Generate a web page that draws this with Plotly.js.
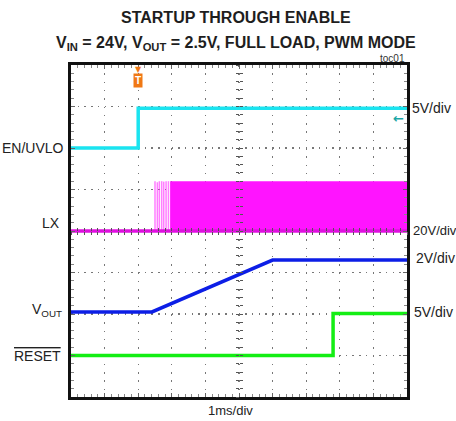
<!DOCTYPE html>
<html>
<head>
<meta charset="utf-8">
<script src="https://cdn.plot.ly/plotly-3.0.1.min.js"></script>
<style>html,body{margin:0;padding:0;background:#fff;}#chart{width:456px;height:421px;}</style>
</head>
<body>
<div id="chart"></div>
<script>
// ---- data (time in ms, trigger at 0; values in volts) ----
var enT = [-2, 0, 0, 8];
var enV = [0, 0, 4.8, 4.8];

var lxBaseT = [-2, 8];
var lxBaseV = [0, 0];
var lxPulseT = [0.5, 0.57, 0.63, 0.7, 0.76, 0.83, 0.9];
var lxPulseV = [24, 23.5, 24, 24, 23.8, 24, 24];
var lxFillT = [0.95, 8];
var lxHighV = [24, 24];
var lxLowV = [-0.4, -0.4];

var voutT = [-2, 0.41, 4.0, 8];
var voutV = [0, 0, 2.5, 2.5];

var rstT = [-2, 5.8, 5.8, 8];
var rstV = [0, 0, 5.05, 5.05];

// channel scales (V/div) and positions (div)
var chScale = {en: 5, lx: 20, vout: 2, rst: 5};
var chPos = {en: 2, lx: 0, vout: -1.95, rst: -3};

function toDiv(arr, ch) {
  return arr.map(function (v) { return v === null ? null : v / chScale[ch] + chPos[ch]; });
}

var FONT = '"Liberation Sans", Arial, sans-serif';

// pulses as vertical segments
var pX = [], pY = [];
lxPulseT.forEach(function (t, i) {
  pX.push(t, t, null);
  pY.push(0, lxPulseV[i], null);
});

// fill polygon of LX switching envelope
var fX = lxFillT.concat(lxFillT.slice().reverse());
var fY = lxHighV.concat(lxLowV.slice().reverse());

var traces = [
  {x: fX, y: toDiv(fY, 'lx'), mode: 'lines', fill: 'toself', fillcolor: '#ff14ff',
   line: {width: 0, color: '#ff14ff'}, hoverinfo: 'skip', showlegend: false},
  {x: pX, y: toDiv(pY, 'lx'), mode: 'lines', line: {width: 1.5, color: 'rgba(255,40,255,0.6)'},
   hoverinfo: 'skip', showlegend: false},
  {x: lxBaseT, y: toDiv(lxBaseV, 'lx'), mode: 'lines', line: {width: 3.5, color: '#e010e0'},
   hoverinfo: 'skip', showlegend: false},
  {x: enT, y: toDiv(enV, 'en'), mode: 'lines', line: {width: 3.5, color: '#1ae4f0'},
   hoverinfo: 'skip', showlegend: false},
  {x: voutT, y: toDiv(voutV, 'vout'), mode: 'lines', line: {width: 3.5, color: '#0c1ee6'},
   hoverinfo: 'skip', showlegend: false},
  {x: rstT, y: toDiv(rstV, 'rst'), mode: 'lines', line: {width: 3.5, color: '#14ee14'},
   hoverinfo: 'skip', showlegend: false},
  // dummy traces for center-line tick axes
  {x: [null], y: [null], xaxis: 'x2', yaxis: 'y2', hoverinfo: 'skip', showlegend: false},
  {x: [null], y: [null], xaxis: 'x3', yaxis: 'y3', hoverinfo: 'skip', showlegend: false}
];

var xRange = [-2, 8], yRange = [-4, 4];

function centerAxis(range, side, ticks) {
  return {range: range, anchor: 'free', position: 0.5, overlaying: side, showgrid: false,
    zeroline: false, showline: false, showticklabels: false, ticks: ticks, ticklen: 3,
    tickcolor: '#555', tickwidth: 1, dtick: 0.2, tick0: 0, fixedrange: true};
}

var cx2 = centerAxis(xRange, 'x', 'inside');
var cx3 = centerAxis(xRange, 'x', 'outside');
var cy2 = centerAxis(yRange, 'y', 'inside');
var cy3 = centerAxis(yRange, 'y', 'outside');

var TFONT = {family: FONT, size: 16, color: '#1e1e1e'};

var layout = {
  width: 456, height: 421,
  margin: {l: 71, r: 49, t: 65, b: 24},
  paper_bgcolor: '#fff', plot_bgcolor: '#fff',
  showlegend: false,
  font: {family: FONT, size: 14, color: '#222'},
  xaxis: {
    range: xRange, dtick: 1, tick0: 0, showgrid: true, gridcolor: '#777', gridwidth: 1.2,
    griddash: '1.5px,6.8px', zeroline: false, showline: true, linecolor: '#111', linewidth: 3,
    mirror: 'ticks', ticks: 'inside', ticklen: 4, tickcolor: '#666', tickwidth: 1,
    showticklabels: false, fixedrange: true,
    minor: {dtick: 0.2, tick0: 0, ticks: 'inside', ticklen: 3, tickcolor: '#888', tickwidth: 1, showgrid: false}
  },
  yaxis: {
    range: yRange, dtick: 1, tick0: 0, showgrid: true, gridcolor: '#777', gridwidth: 1.2,
    griddash: '1.5px,5.2px', zeroline: false, showline: true, linecolor: '#111', linewidth: 3,
    mirror: 'ticks', ticks: 'inside', ticklen: 4, tickcolor: '#666', tickwidth: 1,
    showticklabels: false, fixedrange: true,
    minor: {dtick: 0.2, tick0: 0, ticks: 'inside', ticklen: 3, tickcolor: '#888', tickwidth: 1, showgrid: false}
  },
  xaxis2: cx2, yaxis2: cy2, xaxis3: cx3, yaxis3: cy3,
  annotations: [
    // title lines
    {text: '<b>STARTUP THROUGH ENABLE</b>', xref: 'paper', x: 0.49, xanchor: 'center',
     yref: 'paper', y: 1.142, yanchor: 'middle', showarrow: false, font: TFONT},
    {text: '<b>V<sub>IN</sub> = 24V, V<sub>OUT</sub> = 2.5V, FULL LOAD, PWM MODE</b>', xref: 'paper', x: 0.49, xanchor: 'center',
     yref: 'paper', y: 1.066, yanchor: 'middle', showarrow: false, font: TFONT},
    // left channel labels
    {text: 'EN/UVLO', xref: 'paper', x: 0, xanchor: 'right', xshift: -5, yref: 'y', y: 2, yanchor: 'middle', showarrow: false},
    {text: 'LX', xref: 'paper', x: 0, xanchor: 'right', xshift: -9, yref: 'y', y: 0.2, yanchor: 'middle', showarrow: false},
    {text: 'V<sub>OUT</sub>', xref: 'paper', x: 0, xanchor: 'right', xshift: -7, yref: 'y', y: -1.9, yanchor: 'middle', showarrow: false},
    {text: '<span style="text-decoration:overline">RESET</span>', xref: 'paper', x: 0, xanchor: 'right', xshift: -8, yref: 'y', y: -3, yanchor: 'middle', showarrow: false},
    // right scale labels
    {text: '5V/div', xref: 'paper', x: 1, xanchor: 'left', xshift: 3, yref: 'y', y: 2.96, yanchor: 'middle', showarrow: false},
    {text: '20V/div', xref: 'paper', x: 1, xanchor: 'left', xshift: 4, yref: 'y', y: 0.02, yanchor: 'middle', showarrow: false,
     font: {family: FONT, size: 13, color: '#222'}},
    {text: '2V/div', xref: 'paper', x: 1, xanchor: 'left', xshift: 7, yref: 'y', y: -0.66, yanchor: 'middle', showarrow: false},
    {text: '5V/div', xref: 'paper', x: 1, xanchor: 'left', xshift: 5, yref: 'y', y: -1.96, yanchor: 'middle', showarrow: false},
    // time base
    {text: '1ms/div', xref: 'paper', x: 0.475, xanchor: 'center', yref: 'paper', y: 0, yanchor: 'top', yshift: -4, showarrow: false,
     font: {family: FONT, size: 13, color: '#222'}},
    // figure id
    {text: 'toc01', xref: 'paper', x: 1, xanchor: 'right', yref: 'paper', y: 1, yanchor: 'bottom', yshift: -1, showarrow: false,
     font: {family: FONT, size: 10, color: '#333'}},
    // trigger marker
    {text: '▼', xref: 'x', x: 0, xanchor: 'center', yref: 'paper', y: 1, yanchor: 'top', yshift: 2, showarrow: false,
     font: {family: 'DejaVu Sans', size: 8, color: '#f07814'}},
    {text: '<b>T</b>', xref: 'x', x: 0, xanchor: 'center', yref: 'paper', y: 1, yanchor: 'top', yshift: -8, showarrow: false,
     bgcolor: '#f07814', borderpad: 1, font: {family: FONT, size: 10, color: '#fff'}},
    // trigger level marker
    {text: '<b>←</b>', xref: 'paper', x: 1, xanchor: 'right', xshift: -1, yref: 'y', y: 2.72, yanchor: 'middle', showarrow: false,
     font: {family: 'DejaVu Sans', size: 13, color: '#1aa6a6'}}
  ]
};

Plotly.newPlot('chart', traces, layout, {displayModeBar: false, staticPlot: true});
</script>
</body>
</html>
